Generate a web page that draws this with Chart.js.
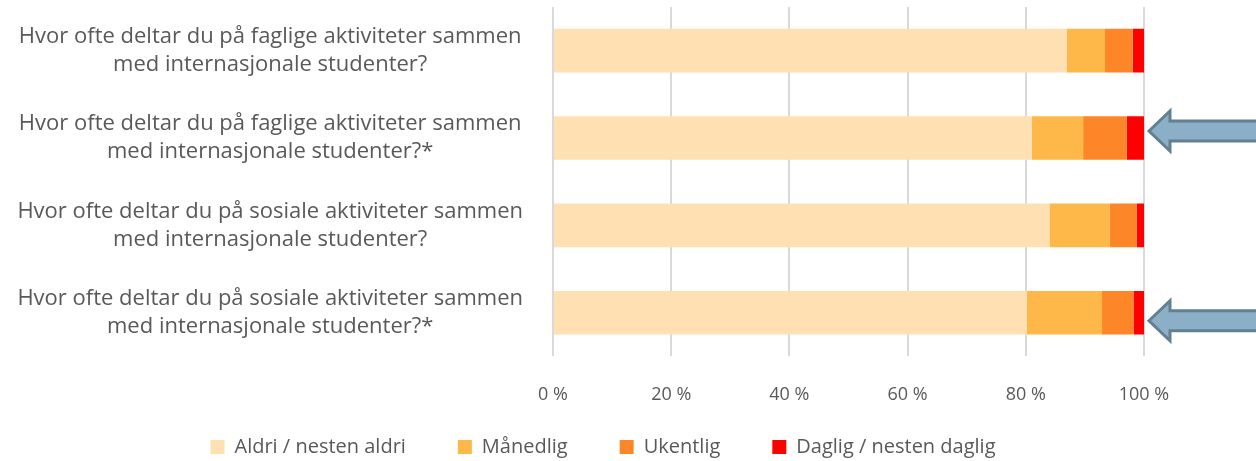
<!DOCTYPE html>
<html>
<head>
<meta charset="utf-8">
<script src="https://cdn.jsdelivr.net/npm/chart.js@4/dist/chart.umd.min.js"></script>
<style>
  html, body { margin: 0; padding: 0; background: #fff; }
  #wrap { width: 1256px; height: 461px; }
</style>
</head>
<body>
<div id="wrap"><canvas id="chart"></canvas></div>
<script>
// questions (y categories)
const questions = [
  ['Hvor ofte deltar du på faglige aktiviteter sammen', 'med internasjonale studenter?'],
  ['Hvor ofte deltar du på faglige aktiviteter sammen', 'med internasjonale studenter?*'],
  ['Hvor ofte deltar du på sosiale aktiviteter sammen', 'med internasjonale studenter?'],
  ['Hvor ofte deltar du på sosiale aktiviteter sammen', 'med internasjonale studenter?*']
];

// share of answers, percent
const aldri    = [86.9, 81.0, 84.0, 80.2];
const maanedlig = [6.5, 8.7, 10.2, 12.7];
const ukentlig = [4.7, 7.4, 4.6, 5.4];
const daglig   = [1.9, 2.9, 1.2, 1.7];

const xTicks = [0, 20, 40, 60, 80, 100];

// which rows get an arrow (and how far off the bar centre, px)
const arrowRows = [1, 3];
const arrowShift = [-7, 8];

const textGrey = '#595959';
const fontName = "'Open Sans', sans-serif";

const arrowPlugin = {
  id: 'arrows',
  afterDraw(chart) {
    const ctx = chart.ctx;
    const yScale = chart.scales.y;
    const tipX = chart.chartArea.right + 5;
    arrowRows.forEach((row, i) => {
      const cy = yScale.getPixelForValue(row) + arrowShift[i];
      ctx.save();
      ctx.beginPath();
      ctx.moveTo(tipX, cy);
      ctx.lineTo(tipX + 21, cy - 20);
      ctx.lineTo(tipX + 21, cy - 10);
      ctx.lineTo(chart.width + 5, cy - 10);
      ctx.lineTo(chart.width + 5, cy + 10);
      ctx.lineTo(tipX + 21, cy + 10);
      ctx.lineTo(tipX + 21, cy + 20);
      ctx.closePath();
      ctx.fillStyle = '#8aafc6';
      ctx.fill();
      ctx.lineWidth = 3;
      ctx.strokeStyle = '#62808f';
      ctx.stroke();
      ctx.restore();
    });
  }
};

// legend in the reference is centred under the plot, not the whole canvas
const legendShift = {
  id: 'legendShift',
  afterUpdate(chart) {
    const lg = chart.legend;
    lg.left += 31; lg.right += 31;
    lg.top -= 49; lg.bottom -= 49;
    lg.adjustHitBoxes();
  }
};

new Chart(document.getElementById('chart'), {
  type: 'bar',
  data: {
    labels: questions,
    datasets: [
      { label: 'Aldri / nesten aldri', data: aldri, backgroundColor: '#fee0b3' },
      { label: 'Månedlig', data: maanedlig, backgroundColor: '#fdb849' },
      { label: 'Ukentlig', data: ukentlig, backgroundColor: '#fc8628' },
      { label: 'Daglig / nesten daglig', data: daglig, backgroundColor: '#ff0000' }
    ]
  },
  options: {
    indexAxis: 'y',
    responsive: true,
    maintainAspectRatio: false,
    animation: false,
    datasets: {
      bar: { categoryPercentage: 0.5, barPercentage: 1.0 }
    },
    layout: { padding: { left: 0, right: 112, top: 7, bottom: -55 } },
    scales: {
      x: {
        stacked: true,
        min: 0,
        max: 100,
        afterBuildTicks(scale) {
          scale.ticks = xTicks.map(v => ({ value: v }));
        },
        grid: { color: '#d9d9d9', lineWidth: 2, drawTicks: false },
        border: { display: false },
        ticks: {
          padding: 28,
          color: textGrey,
          font: { family: fontName, size: 18 },
          callback: v => v + ' %'
        }
      },
      y: {
        stacked: true,
        grid: { display: false },
        border: { display: false },
        afterFit(scale) {
          scale.width = 553;
          scale.paddingTop = 0;
          scale.paddingBottom = 0;
        },
        ticks: {
          crossAlign: 'center',
          padding: 22,
          color: textGrey,
          font: { family: fontName, size: 22, lineHeight: 1.27 }
        }
      }
    },
    plugins: {
      legend: {
        position: 'bottom',
        labels: {
          boxWidth: 14,
          boxHeight: 14,
          padding: 52,
          color: textGrey,
          font: { family: fontName, size: 20 }
        }
      },
      tooltip: { enabled: false }
    }
  },
  plugins: [arrowPlugin, legendShift]
});
</script>
</body>
</html>
